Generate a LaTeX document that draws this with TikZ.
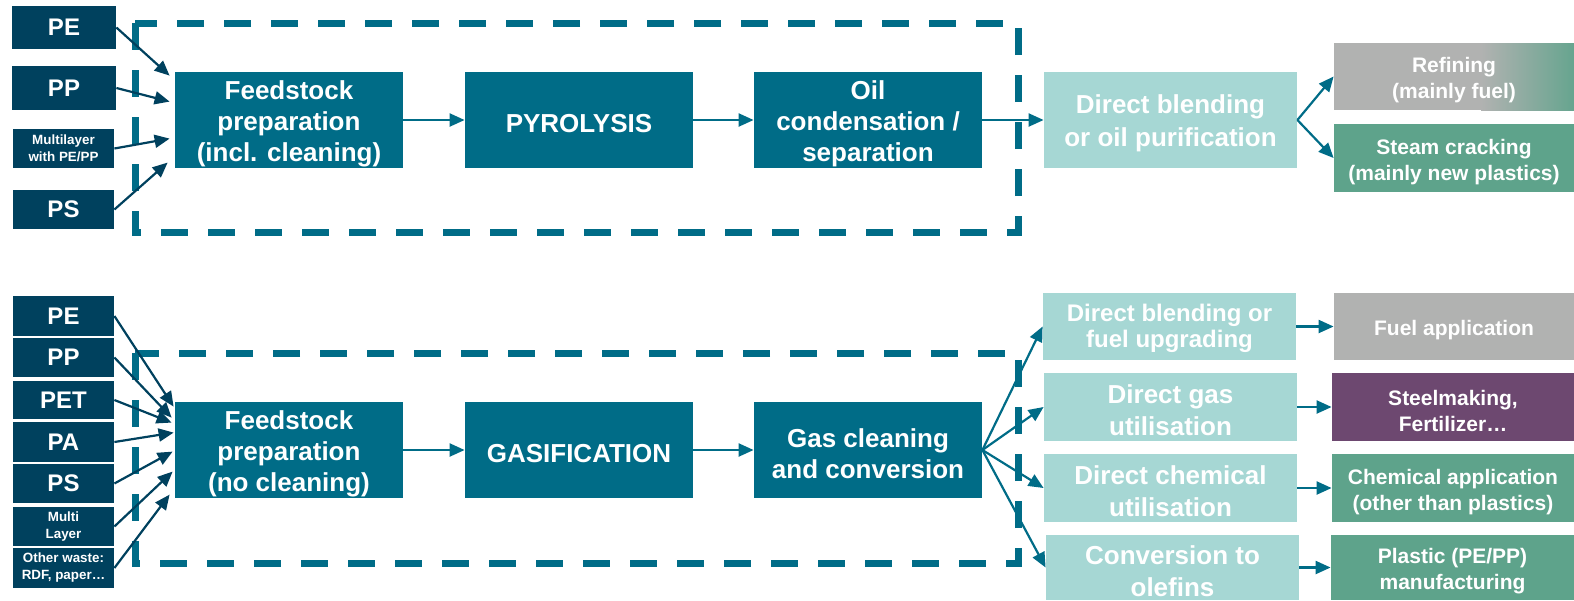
\documentclass[tikz,border=0pt]{standalone}
\usepackage{fontspec}
\setmainfont{Liberation Sans}
\usetikzlibrary{arrows.meta,calc}
\definecolor{navy}{HTML}{00415E}
\definecolor{teal}{HTML}{006C87}
\definecolor{light}{HTML}{A6D7D4}
\definecolor{greybox}{HTML}{B1B2B1}
\definecolor{greenbox}{HTML}{5EA38B}
\definecolor{purplebox}{HTML}{6D4870}
\def\lowerrule{}
\newcommand\bx[7]{\node[#6, minimum width={(#4-#2)*0.5pt}, minimum height={(#5-#3)*0.5pt}] (#1) at ({(#2+#4)/2},{(#3+#5)/2}) {\lowerrule#7};}
\tikzset{
  base/.style={inner sep=0pt, align=center, text=white, font=\bfseries},
  lower/.style={/utils/exec={\def\lowerrule{\rule{0pt}{#1}}}},
  src/.style={base, fill=navy},
  srcbig/.style={src, font=\bfseries\fontsize{12}{13}\selectfont},
  srcsmall/.style={src, font=\bfseries\fontsize{6.7}{8.5}\selectfont},
  proc/.style={base, fill=teal, font=\bfseries\fontsize{13}{15.5}\selectfont, lower=13pt},
  lightbox/.style={base, fill=light, font=\bfseries\fontsize{13}{16.5}\selectfont, lower=13pt},
  outbox/.style={base, font=\bfseries\fontsize{10.5}{13}\selectfont, lower=11.2pt},
  greyout/.style={outbox, fill=greybox},
  greenout/.style={outbox, fill=greenbox},
  purpleout/.style={outbox, fill=purplebox},
  plainout/.style={outbox},
  arr/.style={draw=teal, line width=1.1pt, -{Triangle[length=7.5pt,width=6.5pt]}},
  navyarr/.style={arr, draw=navy},
  dashbox/.style={draw=teal, line width=3.5pt, dash pattern=on 13.5pt off 10pt}
}
\begin{document}
\begin{tikzpicture}[x=0.5pt,y=-0.5pt]
\useasboundingbox (0,0) rectangle (1574,600);
% dashed boxes
\draw[dashbox] (135,23) rectangle (1018,232);
\draw[dashbox] (135,353) rectangle (1018,563);
% refining background with gradient on the right
\fill[greybox] (1334,43) rectangle (1482,110);
\shade[left color=greybox, right color=greenbox!90!greybox] (1481,43) rectangle (1574,110);
% ---- top row ----
\bx{pe1}{12}{6}{116}{49}{srcbig}{PE}
\bx{pp1}{12}{66}{116}{110}{srcbig}{PP}
\bx{ml1}{13}{129}{114}{168}{srcsmall}{Multilayer\\with PE/PP}
\bx{ps1}{13}{190}{114}{229}{srcbig}{PS}
\bx{fs1}{175}{72}{403}{168}{proc}{Feedstock\\preparation\\(incl. cleaning)}
\bx{pyr}{465}{72}{693}{168}{proc}{PYROLYSIS}
\bx{oil}{754}{72}{982}{168}{proc}{Oil\\condensation /\\separation}
\bx{dbo}{1044}{72}{1297}{168}{lightbox}{Direct blending\\or oil purification}
\bx{ref}{1334}{43}{1574}{110}{plainout}{Refining\\(mainly fuel)}
\bx{stc}{1334}{124}{1574}{192}{greenout}{Steam cracking\\(mainly new plastics)}
\draw[navyarr] (pe1.east) -- ($(fs1.north west)+(-5,4)$);
\draw[navyarr] (pp1.east) -- ($(fs1.north west)+(-5,30)$);
\draw[navyarr] (ml1.east) -- ($(fs1.north west)+(-5,67)$);
\draw[navyarr] (ps1.east) -- ($(fs1.north west)+(-7,91)$);
\draw[arr] (fs1) -- (pyr);
\draw[arr] (pyr) -- (oil);
\draw[arr] (oil) -- (dbo);
\draw[arr] (dbo.east) -- (ref.west);
\draw[arr] (dbo.east) -- (stc.west);
% ---- bottom row ----
\bx{pe2}{13}{296}{114}{336}{srcbig}{PE}
\bx{pp2}{13}{338}{114}{377}{srcbig}{PP}
\bx{pet2}{13}{381}{114}{419}{srcbig}{PET}
\bx{pa2}{13}{422}{114}{462}{srcbig}{PA}
\bx{ps2}{13}{464}{114}{503}{srcbig}{PS}
\bx{ml2}{13}{507}{114}{546}{srcsmall}{Multi\\Layer}
\bx{ow2}{13}{548}{114}{588}{srcsmall}{Other waste:\\RDF, paper…}
\bx{fs2}{175}{402}{403}{498}{proc}{Feedstock\\preparation\\(no cleaning)}
\bx{gas}{465}{402}{693}{498}{proc}{GASIFICATION}
\bx{gcc}{754}{402}{982}{498}{proc}{Gas cleaning\\and conversion}
\bx{l1}{1043}{293}{1296}{360}{lightbox, font=\bfseries\fontsize{12}{13}\selectfont, lower=10.8pt}{Direct blending or\\fuel upgrading}
\bx{l2}{1044}{373}{1297}{441}{lightbox, font=\bfseries\fontsize{13}{16}\selectfont}{Direct gas\\utilisation}
\bx{l3}{1044}{454}{1297}{522}{lightbox, font=\bfseries\fontsize{13}{16}\selectfont}{Direct chemical\\utilisation}
\bx{l4}{1046}{535}{1299}{600}{lightbox, font=\bfseries\fontsize{13}{16}\selectfont}{Conversion to\\olefins}
\bx{o1}{1334}{293}{1574}{360}{greyout}{Fuel application}
\bx{o2}{1332}{373}{1574}{441}{purpleout}{Steelmaking,\\Fertilizer…}
\bx{o3}{1332}{454}{1574}{522}{greenout}{Chemical application\\(other than plastics)}
\bx{o4}{1331}{535}{1574}{600}{greenout}{Plastic (PE/PP)\\manufacturing}
\draw[navyarr] (pe2.east) -- ($(fs2.north west)+(-1,5)$);
\draw[navyarr] (pp2.east) -- ($(fs2.north west)+(-3,16)$);
\draw[navyarr] (pet2.east) -- ($(fs2.north west)+(-3,21)$);
\draw[navyarr] (pa2.east) -- ($(fs2.north west)+(-1,31)$);
\draw[navyarr] (ps2.east) -- ($(fs2.north west)+(-2,50)$);
\draw[navyarr] (ml2.east) -- ($(fs2.north west)+(-2,70)$);
\draw[navyarr] (ow2.east) -- ($(fs2.north west)+(-5,93)$);
\draw[arr] (fs2) -- (gas);
\draw[arr] (gas) -- (gcc);
\draw[arr] (gcc.east) -- (l1.west);
\draw[arr] (gcc.east) -- (l2.west);
\draw[arr] (gcc.east) -- (l3.west);
\draw[arr] (gcc.east) -- (l4.west);
\draw[arr] (l1) -- (o1);
\draw[arr] (l2) -- (o2);
\draw[arr] (l3) -- (o3);
\draw[arr] (l4) -- (o4);
\end{tikzpicture}
\end{document}
